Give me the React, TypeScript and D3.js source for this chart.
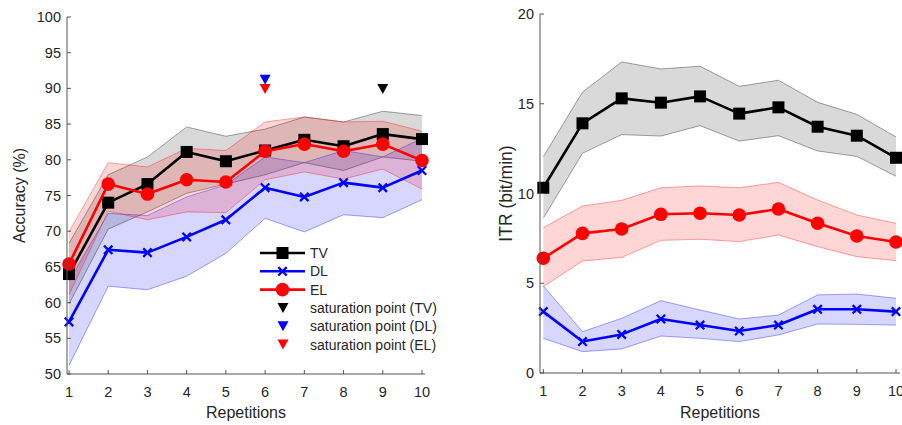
import React from "react";
import * as d3 from "d3";

const reps = [1, 2, 3, 4, 5, 6, 7, 8, 9, 10];
const accTicks = [50, 55, 60, 65, 70, 75, 80, 85, 90, 95, 100];
const itrTicks = [0, 5, 10, 15, 20];

const accTV = [64.0, 74.0, 76.6, 81.1, 79.8, 81.3, 82.8, 81.9, 83.6, 82.9];
const accTVUp = [68.3, 77.9, 80.4, 84.6, 83.3, 84.3, 86.0, 85.3, 86.8, 86.2];
const accTVLo = [59.8, 70.3, 72.7, 75.3, 76.6, 77.9, 79.6, 78.5, 80.4, 79.8];
const accDL = [57.3, 67.4, 67.0, 69.2, 71.6, 76.1, 74.8, 76.8, 76.1, 78.5];
const accDLUp = [63.0, 72.5, 72.2, 74.8, 76.5, 80.4, 79.6, 81.3, 80.4, 83.0];
const accDLLo = [51.2, 62.3, 61.8, 63.7, 66.9, 71.8, 69.9, 72.3, 71.9, 74.4];
const accEL = [65.4, 76.6, 75.2, 77.2, 76.9, 81.2, 82.2, 81.2, 82.2, 79.9];
const accELUp = [69.9, 79.6, 79.0, 81.6, 81.3, 85.3, 86.0, 85.3, 85.4, 84.0];
const accELLo = [61.1, 72.8, 71.6, 72.7, 72.6, 77.2, 78.3, 77.3, 78.7, 75.9];

const itrTV = [10.32, 13.91, 15.3, 15.06, 15.41, 14.45, 14.8, 13.72, 13.22, 11.99];
const itrTVUp = [12.05, 15.65, 17.33, 16.94, 17.09, 15.97, 16.31, 15.08, 14.41, 13.15];
const itrTVLo = [8.62, 12.24, 13.28, 13.2, 13.78, 12.92, 13.22, 12.37, 12.07, 10.96];
const itrDL = [3.42, 1.75, 2.15, 3.01, 2.67, 2.34, 2.67, 3.55, 3.55, 3.42];
const itrDLUp = [4.85, 2.3, 3.05, 4.03, 3.51, 3.01, 3.23, 4.35, 4.4, 4.16];
const itrDLLo = [1.93, 1.19, 1.34, 2.06, 1.93, 1.75, 2.12, 2.73, 2.71, 2.67];
const itrEL = [6.39, 7.78, 8.02, 8.84, 8.9, 8.8, 9.14, 8.34, 7.63, 7.3];
const itrELUp = [8.1, 9.3, 9.62, 10.32, 10.42, 10.32, 10.62, 9.64, 8.8, 8.34];
const itrELLo = [4.81, 6.24, 6.44, 7.39, 7.45, 7.32, 7.69, 7.04, 6.48, 6.26];

const satRep = [9, 6, 6];
const satAcc = [89.9, 91.2, 89.9];
const satNames = ["saturation point (TV)", "saturation point (DL)", "saturation point (EL)"];
const seriesNames = ["TV", "DL", "EL"];
const colors = ["#000000", "#0000ff", "#ff0000"];
const markers = ["square", "x", "circle"];

const FONT = "'Liberation Sans', Arial, Helvetica, sans-serif";
const AXC = "#555";

function Marker({ type, x, y, color }: { type: string; x: number; y: number; color: string }) {
  if (type === "square") return <rect x={x - 6} y={y - 6} width={12} height={12} fill={color} />;
  if (type === "circle") return <circle cx={x} cy={y} r={6.8} fill={color} />;
  const s = 4.2;
  return (
    <path d={`M${x - s},${y - s}L${x + s},${y + s}M${x - s},${y + s}L${x + s},${y - s}`} stroke={color} strokeWidth={2.3} fill="none" />
  );
}

function Tri({ x, y, color }: { x: number; y: number; color: string }) {
  return <path d={`M${x - 5.5},${y - 5}L${x + 5.5},${y - 5}L${x},${y + 5}Z`} fill={color} />;
}

type PanelProps = {
  x0: number; x1: number; xa: number; xb: number; y0: number; y1: number;
  dom: [number, number]; ticks: number[];
  series: number[][]; ups: number[][]; los: number[][];
  ylabel: string; ylabelX: number; ylabelSize: number;
  renderExtra?: (x: d3.ScaleLinear<number, number>, y: d3.ScaleLinear<number, number>) => React.ReactNode;
};

function Panel(p: PanelProps) {
  const x = d3.scaleLinear().domain([1, 10]).range([p.xa, p.xb]);
  const y = d3.scaleLinear().domain(p.dom).range([p.y0, p.y1]);
  const line = d3.line<number>().x((_, i) => x(reps[i])).y((d) => y(d));
  const area = (up: number[], lo: number[]) =>
    d3.area<number>().x((_, i) => x(reps[i])).y0((_, i) => y(lo[i])).y1((d) => y(d))(up) || "";
  return (
    <g>
      {p.ups.map((up, k) => (
        <g key={"b" + k}>
          <path d={area(up, p.los[k])} fill={colors[k]} fillOpacity={k === 0 ? 0.15 : 0.16} stroke="none" />
          <path d={line(up) || ""} fill="none" stroke={colors[k]} strokeOpacity={0.45} strokeWidth={0.8} />
          <path d={line(p.los[k]) || ""} fill="none" stroke={colors[k]} strokeOpacity={0.45} strokeWidth={0.8} />
        </g>
      ))}
      {p.series.map((s, k) => (
        <g key={"s" + k}>
          <path d={line(s) || ""} fill="none" stroke={colors[k]} strokeWidth={2.6} strokeLinejoin="round" />
          {s.map((v, i) => (
            <Marker key={i} type={markers[k]} x={x(reps[i])} y={y(v)} color={colors[k]} />
          ))}
        </g>
      ))}
      {p.renderExtra && p.renderExtra(x, y)}
      <line x1={p.x0} x2={p.x0} y1={p.y0} y2={p.y1} stroke={AXC} strokeWidth={1} />
      <line x1={p.x0} x2={p.x1} y1={p.y0} y2={p.y0} stroke={AXC} strokeWidth={1} />
      {p.ticks.map((t) => (
        <g key={"yt" + t}>
          <line x1={p.x0} x2={p.x0 + 4} y1={y(t)} y2={y(t)} stroke={AXC} />
          <text x={p.x0 - 6} y={y(t) + 5} textAnchor="end" fontSize={14.5} fill="#262626" fontFamily={FONT}>
            {t}
          </text>
        </g>
      ))}
      {reps.map((r) => (
        <g key={"xt" + r}>
          <line x1={x(r)} x2={x(r)} y1={p.y0} y2={p.y0 - 4} stroke={AXC} />
          <text x={x(r)} y={p.y0 + 23} textAnchor="middle" fontSize={14.5} fill="#262626" fontFamily={FONT}>
            {r}
          </text>
        </g>
      ))}
      <text x={(p.x0 + p.x1) / 2} y={418} textAnchor="middle" fontSize={16} fill="#262626" fontFamily={FONT}>
        Repetitions
      </text>
      <text
        transform={`translate(${p.ylabelX},${(p.y0 + p.y1) / 2}) rotate(-90)`}
        textAnchor="middle"
        fontSize={p.ylabelSize}
        fill="#262626"
        fontFamily={FONT}
      >
        {p.ylabel}
      </text>
    </g>
  );
}

export default function App() {
  return (
    <svg width={902} height={425} style={{ position: "absolute", left: 0, top: 0, background: "#fff" }}>
      <rect width={902} height={425} fill="#fff" />
      <Panel
        x0={67} x1={425} xa={69} xb={422} y0={374} y1={17}
        dom={[50, 100]} ticks={accTicks}
        series={[accTV, accDL, accEL]} ups={[accTVUp, accDLUp, accELUp]} los={[accTVLo, accDLLo, accELLo]}
        ylabel="Accuracy (%)" ylabelX={25} ylabelSize={16}
        renderExtra={(x, y) => (
          <g>
            {satRep.map((r, k) => (
              <Tri key={k} x={x(r)} y={y(satAcc[k])} color={colors[k]} />
            ))}
            {seriesNames.map((n, k) => {
              const ly = 253 + k * 18.3;
              return (
                <g key={n}>
                  <line x1={260} x2={305} y1={ly} y2={ly} stroke={colors[k]} strokeWidth={2.6} />
                  <Marker type={markers[k]} x={282.5} y={ly} color={colors[k]} />
                  <text x={310} y={ly + 5} fontSize={14} fill="#262626" fontFamily={FONT}>{n}</text>
                </g>
              );
            })}
            {satNames.map((n, k) => {
              const ly = 253 + (k + 3) * 18.3;
              return (
                <g key={n}>
                  <Tri x={283} y={ly} color={colors[k]} />
                  <text x={310} y={ly + 5} fontSize={14} fill="#262626" fontFamily={FONT}>{n}</text>
                </g>
              );
            })}
          </g>
        )}
      />
      <Panel
        x0={540} x1={900} xa={543.3} xb={896} y0={373} y1={14}
        dom={[0, 20]} ticks={itrTicks}
        series={[itrTV, itrDL, itrEL]} ups={[itrTVUp, itrDLUp, itrELUp]} los={[itrTVLo, itrDLLo, itrELLo]}
        ylabel="ITR (bit/min)" ylabelX={512} ylabelSize={17.5}
      />
    </svg>
  );
}
